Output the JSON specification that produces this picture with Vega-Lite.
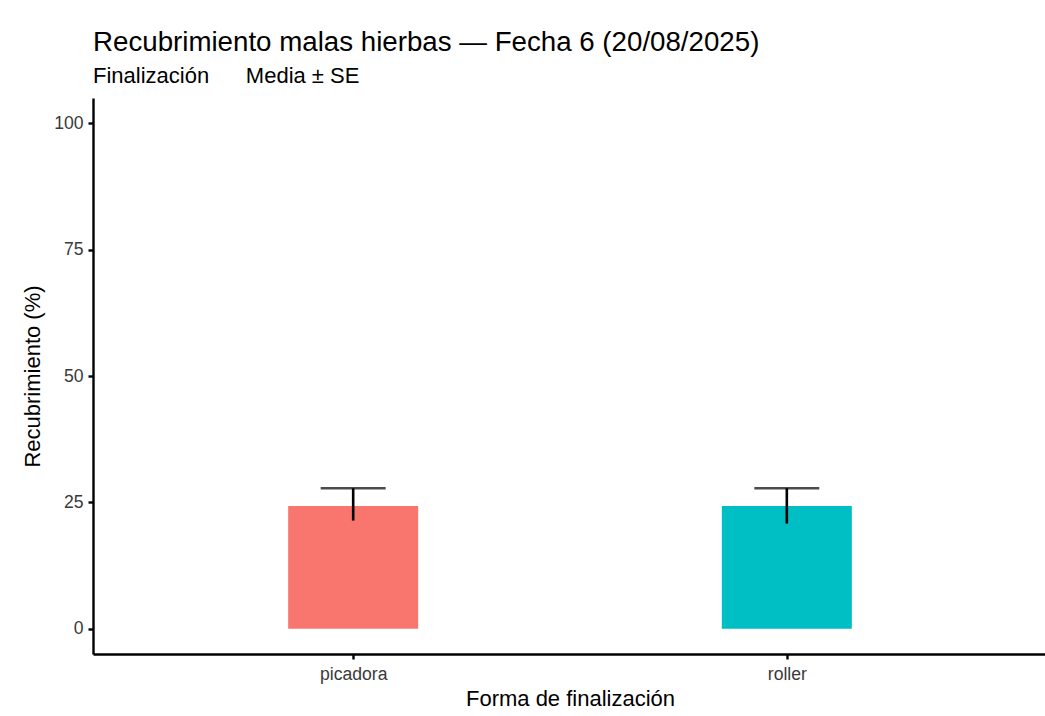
{
  "$schema": "https://vega.github.io/schema/vega-lite/v6.json",
  "width": 954,
  "height": 556,
  "autosize": {"type": "none"},
  "padding": {"left": 93, "top": 98, "right": 0, "bottom": 62},
  "background": "white",
  "config": {
    "view": {"stroke": null},
    "font": "Liberation Sans",
    "axis": {
      "domainColor": "black",
      "domainWidth": 2.4,
      "tickColor": "black",
      "tickWidth": 2.4,
      "tickSize": 5,
      "labelFont": "Liberation Sans",
      "labelFontSize": 17.6,
      "labelColor": "#3a3a3a",
      "titleFont": "Liberation Sans",
      "titleFontSize": 22,
      "titleFontWeight": "normal",
      "titleColor": "black",
      "grid": false
    }
  },
  "title": {
    "text": "Recubrimiento malas hierbas — Fecha 6 (20/08/2025)",
    "subtitle": "Finalización\u00a0\u00a0\u00a0\u00a0\u00a0\u00a0Media ± SE",
    "anchor": "start",
    "frame": "group",
    "font": "Liberation Sans",
    "fontSize": 27.7,
    "fontWeight": "normal",
    "color": "black",
    "subtitleFont": "Liberation Sans",
    "subtitleFontSize": 22,
    "subtitleColor": "black",
    "offset": 11,
    "subtitlePadding": 9
  },
  "data": {
    "values": [
      {"forma": "picadora", "media": 24.3, "lower": 21.4, "upper": 27.8},
      {"forma": "roller", "media": 24.3, "lower": 20.8, "upper": 27.8}
    ]
  },
  "encoding": {
    "x": {
      "field": "forma",
      "type": "nominal",
      "sort": null,
      "scale": {"type": "point", "padding": 0.6},
      "axis": {"title": "Forma de finalización", "labelAngle": 0, "labelPadding": 6, "titlePadding": 6}
    }
  },
  "layer": [
    {
      "mark": {"type": "bar", "size": 130},
      "encoding": {
        "y": {
          "field": "media",
          "type": "quantitative",
          "scale": {"domain": [-5, 105], "nice": false, "zero": false},
          "axis": {"title": "Recubrimiento (%)", "values": [0, 25, 50, 75, 100], "labelPadding": 5, "titlePadding": 9}
        },
        "y2": {"datum": 0},
        "color": {
          "field": "forma",
          "type": "nominal",
          "sort": null,
          "scale": {"range": ["#F8766D", "#00BFC4"]},
          "legend": null
        }
      }
    },
    {
      "mark": {"type": "rule", "color": "black", "strokeWidth": 2.6},
      "encoding": {
        "y": {"field": "lower", "type": "quantitative"},
        "y2": {"field": "upper"}
      }
    },
    {
      "mark": {"type": "tick", "color": "black", "thickness": 2.6, "size": 65},
      "encoding": {
        "y": {"field": "upper", "type": "quantitative"}
      }
    }
  ]
}
